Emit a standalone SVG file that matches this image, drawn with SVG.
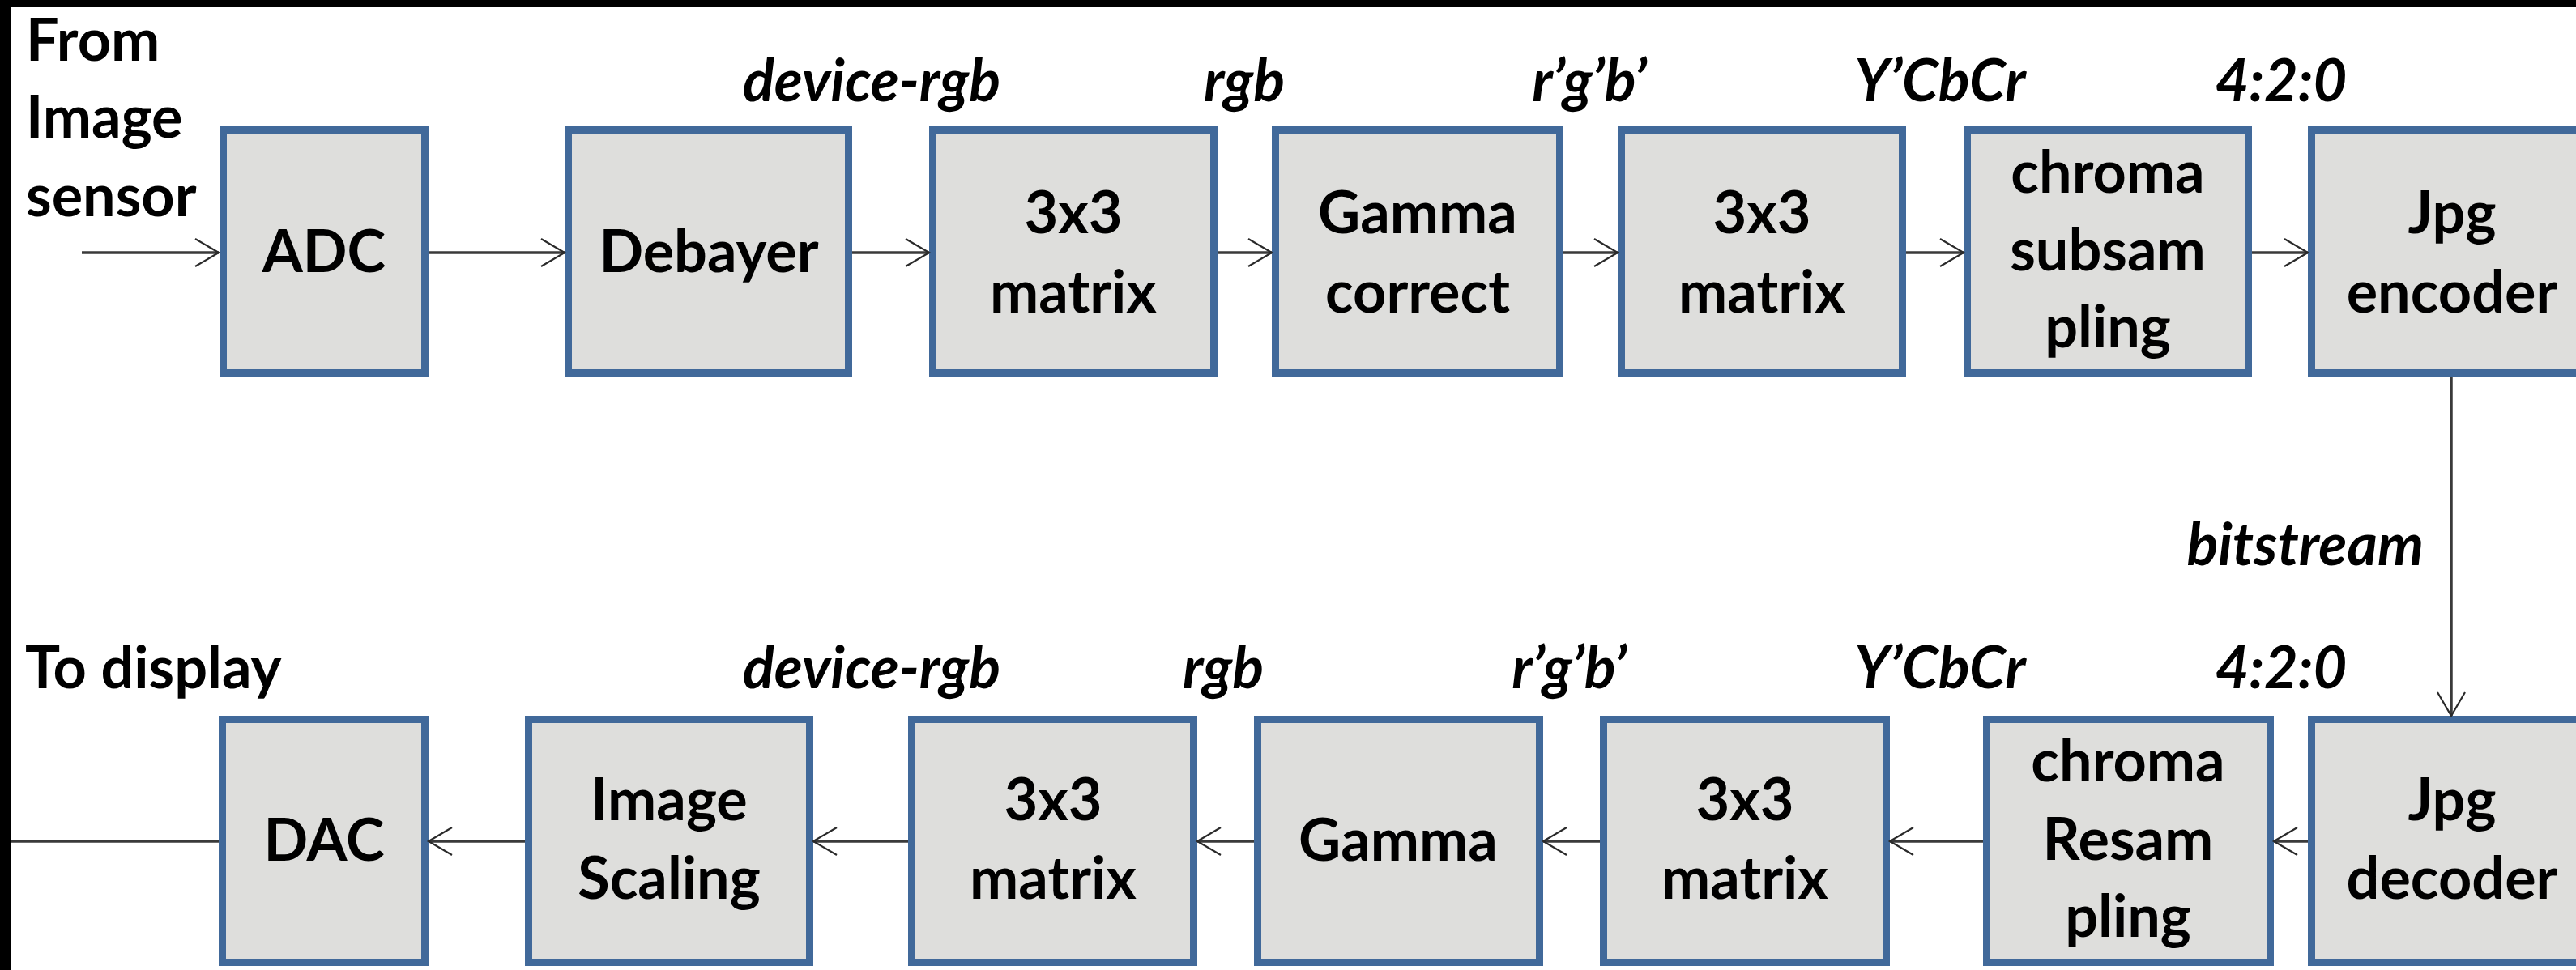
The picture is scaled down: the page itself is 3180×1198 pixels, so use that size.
<svg xmlns="http://www.w3.org/2000/svg" width="3180" height="1198" viewBox="0 0 3180 1198">
  <style>
    .box { fill: #dededc; stroke: #41699a; stroke-width: 9; }
    .t { font-family: Lato, "Open Sans", "DejaVu Sans", sans-serif; font-weight: bold; font-size: 72px; fill: #000; }
    .c { text-anchor: middle; }
    .i { font-style: italic; }
    .wire { fill: none; stroke: #3a3a3a; stroke-width: 3.5; }
  </style>
  <defs>
    <marker id="open" markerUnits="userSpaceOnUse" viewBox="0 0 34 38" refX="31" refY="19" markerWidth="34" markerHeight="38" orient="auto">
      <path d="M2,2 L31,19 L2,36" fill="none" stroke="#2a2a2a" stroke-width="2.2"/>
    </marker>
  </defs>

  <rect x="0" y="0" width="3180" height="1198" fill="#fff"/>
  <!-- frame edges -->
  <rect x="0" y="0" width="3180" height="9" fill="#000"/>
  <rect x="0" y="0" width="13" height="1198" fill="#000"/>

  <!-- encode chain -->
  <g id="adc"><rect class="box" x="275.5" y="160.5" width="249" height="300"/><text class="t c" x="400" y="336">ADC</text></g>
  <g id="debayer"><rect class="box" x="701.5" y="160.5" width="346" height="300"/><text class="t c" x="875" y="336">Debayer</text></g>
  <g id="matrix-enc-1"><rect class="box" x="1151.5" y="160.5" width="347" height="300"/><text class="t c" x="1325" y="288">3x3</text><text class="t c" x="1325" y="386">matrix</text></g>
  <g id="gamma-correct"><rect class="box" x="1574.5" y="160.5" width="351" height="300"/><text class="t c" x="1750" y="288">Gamma</text><text class="t c" x="1750" y="386">correct</text></g>
  <g id="matrix-enc-2"><rect class="box" x="2001.5" y="160.5" width="347" height="300"/><text class="t c" x="2175" y="288">3x3</text><text class="t c" x="2175" y="386">matrix</text></g>
  <g id="chroma-subsampling"><rect class="box" x="2428.5" y="160.5" width="347" height="300"/><text class="t c" x="2602" y="238">chroma</text><text class="t c" x="2602" y="334">subsam</text><text class="t c" x="2602" y="429">pling</text></g>
  <g id="jpg-encoder"><rect class="box" x="2853.5" y="160.5" width="347" height="300"/><text class="t c" x="3027" y="288">Jpg</text><text class="t c" x="3027" y="386">encoder</text></g>

  <!-- decode chain -->
  <g id="jpg-decoder"><rect class="box" x="2853.5" y="888.5" width="347" height="300"/><text class="t c" x="3027" y="1013">Jpg</text><text class="t c" x="3027" y="1110">decoder</text></g>
  <g id="chroma-resampling"><rect class="box" x="2452.5" y="888.5" width="350" height="300"/><text class="t c" x="2627" y="965">chroma</text><text class="t c" x="2627" y="1062">Resam</text><text class="t c" x="2627" y="1157">pling</text></g>
  <g id="matrix-dec-1"><rect class="box" x="1979.5" y="888.5" width="349" height="300"/><text class="t c" x="2154" y="1013">3x3</text><text class="t c" x="2154" y="1110">matrix</text></g>
  <g id="gamma"><rect class="box" x="1552.5" y="888.5" width="348" height="300"/><text class="t c" x="1726" y="1063">Gamma</text></g>
  <g id="matrix-dec-2"><rect class="box" x="1125.5" y="888.5" width="348" height="300"/><text class="t c" x="1300" y="1013">3x3</text><text class="t c" x="1300" y="1110">matrix</text></g>
  <g id="image-scaling"><rect class="box" x="652.5" y="888.5" width="347" height="300"/><text class="t c" x="826" y="1013">Image</text><text class="t c" x="826" y="1110">Scaling</text></g>
  <g id="dac"><rect class="box" x="274.5" y="888.5" width="250" height="300"/><text class="t c" x="400" y="1063">DAC</text></g>

  <!-- connectors -->
  <g id="connectors">
    <line class="wire" x1="101" y1="312" x2="270" y2="312" marker-end="url(#open)"/>
    <line class="wire" x1="529" y1="312" x2="697" y2="312" marker-end="url(#open)"/>
    <line class="wire" x1="1052" y1="312" x2="1147" y2="312" marker-end="url(#open)"/>
    <line class="wire" x1="1503" y1="312" x2="1570" y2="312" marker-end="url(#open)"/>
    <line class="wire" x1="1930" y1="312" x2="1997" y2="312" marker-end="url(#open)"/>
    <line class="wire" x1="2353" y1="312" x2="2424" y2="312" marker-end="url(#open)"/>
    <line class="wire" x1="2780" y1="312" x2="2849" y2="312" marker-end="url(#open)"/>
    <line class="wire" x1="3026" y1="465" x2="3026" y2="884" marker-end="url(#open)"/>
    <line class="wire" x1="2849" y1="1039" x2="2807" y2="1039" marker-end="url(#open)"/>
    <line class="wire" x1="2448" y1="1039" x2="2333" y2="1039" marker-end="url(#open)"/>
    <line class="wire" x1="1975" y1="1039" x2="1905" y2="1039" marker-end="url(#open)"/>
    <line class="wire" x1="1548" y1="1039" x2="1478" y2="1039" marker-end="url(#open)"/>
    <line class="wire" x1="1121" y1="1039" x2="1004" y2="1039" marker-end="url(#open)"/>
    <line class="wire" x1="648" y1="1039" x2="529" y2="1039" marker-end="url(#open)"/>
    <line class="wire" x1="270" y1="1039" x2="13" y2="1039"/>
  </g>

  <!-- signal format labels -->
  <g id="labels">
    <text class="t" x="32" y="75">From</text>
    <text class="t" x="32" y="170">Image</text>
    <text class="t" x="32" y="267">sensor</text>
    <text class="t" x="31" y="850">To display</text>

    <text class="t c i" x="1076" y="125">device-rgb</text>
    <text class="t c i" x="1536" y="125">rgb</text>
    <text class="t c i" x="1962" y="125">r’g’b’</text>
    <text class="t c i" x="2395" y="125">Y’CbCr</text>
    <text class="t c i" x="2816" y="125">4:2:0</text>

    <text class="t i" x="2992" y="698" text-anchor="end">bitstream</text>

    <text class="t c i" x="1076" y="850">device-rgb</text>
    <text class="t c i" x="1510" y="850">rgb</text>
    <text class="t c i" x="1937" y="850">r’g’b’</text>
    <text class="t c i" x="2395" y="850">Y’CbCr</text>
    <text class="t c i" x="2816" y="850">4:2:0</text>
  </g>
</svg>
